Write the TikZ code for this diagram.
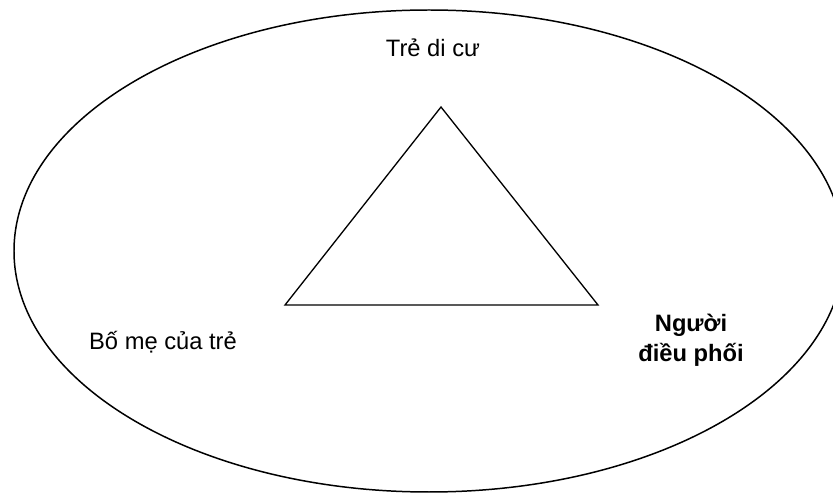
\documentclass[tikz,border=0pt]{standalone}
\usepackage{fontspec}
\setmainfont{Liberation Sans}
\usepackage{tikz}

\begin{document}
\begin{tikzpicture}[x=0.02cm,y=-0.02cm,
  lbl/.style={anchor=base,inner sep=0pt,font=\fontsize{13.5}{16}\selectfont},
  lblb/.style={lbl,font=\fontsize{13.5}{16}\selectfont\bfseries,align=center}]
\useasboundingbox (0,0) rectangle (833,493);

%%% outer ellipse
\draw[line width=0.85pt] (429,251) ellipse [x radius=415, y radius=241];

%%% triangle
\coordinate (apex) at (441,107);
\coordinate (left) at (285,305);
\coordinate (right) at (598,305);
\draw[line width=0.75pt] (apex) -- (left) -- (right) -- cycle;

\node[lbl] (child) at (433,57) {Trẻ di cư};
\node[lbl] (parent) at (163,350) {Bố mẹ của trẻ};
\node[lblb,anchor=north] (coord) at (691,314) {Người\\[1pt]điều phối};
\end{tikzpicture}
\end{document}
